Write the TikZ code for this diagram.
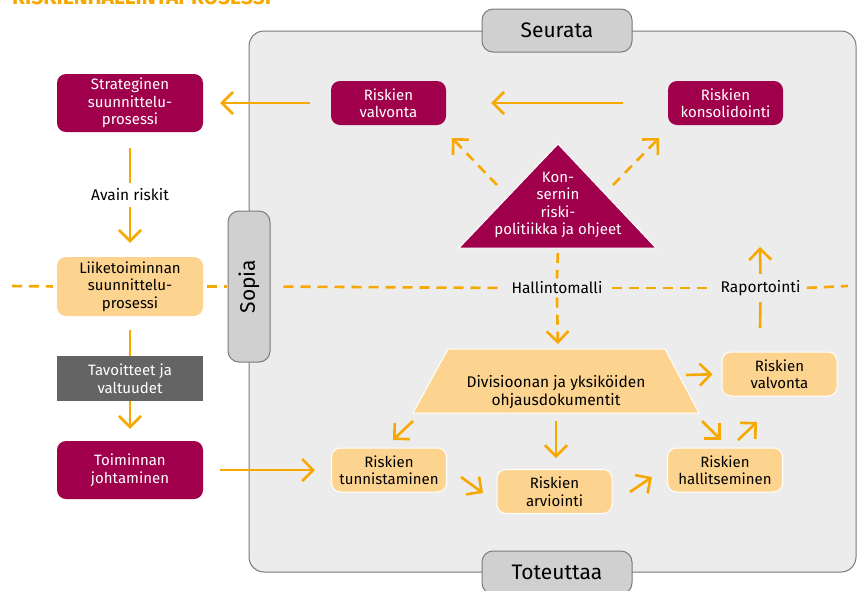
\documentclass[tikz,border=0pt]{standalone}
\usepackage{fontspec}
\setmainfont{Fira Sans}
\usetikzlibrary{positioning}
\usetikzlibrary{arrows.meta}
\definecolor{wine}{HTML}{A0004B}
\definecolor{amber}{HTML}{F7A800}
\definecolor{peach}{HTML}{FDD48F}
\definecolor{panelgrey}{HTML}{ECECEC}
\definecolor{tabgrey}{HTML}{D0D0D0}
\definecolor{tabedge}{HTML}{7A7A7A}
\definecolor{slate}{HTML}{646464}
\tikzset{
    box/.style={rounded corners=9pt, minimum width=115pt, minimum height=44pt, align=center, inner sep=1pt, font=\fontsize{15}{17.5}\selectfont}, % laatikot
    wine box/.style={box, fill=wine, text=white},
    peach box/.style={box, fill=peach, draw=white, line width=1pt},
    tab/.style={rounded corners=11pt, fill=tabgrey, draw=tabedge, line width=1pt, minimum width=150pt, minimum height=43pt, font=\fontsize{21}{24}\selectfont}, % vaiheet
    label/.style={font=\fontsize{15.5}{18}\selectfont},
    flow/.style={draw=amber, line width=2.6pt},
    arr/.style={flow, -{Straight Barb[length=11pt, width=22pt]}},
    dashline/.style={flow, dash pattern=on 10pt off 7pt}
}
\begin{document}
\begin{tikzpicture}[x=1pt, y=-1pt]
    \useasboundingbox (0,0) rectangle (857,590);

    \node[anchor=base west, inner sep=0pt, text=amber, font=\bfseries\fontsize{21}{24}\selectfont] (title) at (12,4) {RISKIENHALLINTAPROSESSI};

    % harmaa alue ja vaiheet
    \draw[fill=panelgrey, draw=tabedge, line width=1pt, rounded corners=15pt] (249,31) rectangle (856,572);
    \node[tab] (seurata) at (557,30.5) {Seurata};
    \node[tab] (toteuttaa) at (557,572.5) {Toteuttaa};
    \node[tab, rotate=90, minimum width=151pt, minimum height=42pt] (sopia) at (249,286.5) {Sopia};

    % vasen sarake
    \node[wine box, minimum width=146pt, minimum height=58pt] (strat) at (130,103) {Strateginen\\suunnittelu-\\prosessi};
    \node[label] (avain) at (130,195) {Avain riskit};
    \node[box, fill=peach, minimum width=146pt, minimum height=59pt] (liike) at (130,286.5) {Liiketoiminnan\\suunnittelu-\\prosessi};
    \node[box, rounded corners=0pt, fill=slate, text=white, minimum width=146pt, minimum height=45pt] (tavo) at (130,378.5) {Tavoitteet ja\\valtuudet};
    \node[wine box, minimum width=146pt, minimum height=58pt] (toim) at (130,470) {Toiminnan\\johtaminen};

    % seuranta
    \node[wine box] (valv1) at (388.5,103) {Riskien\\valvonta};
    \node[wine box] (konsol) at (725.5,103) {Riskien\\konsolidointi};

    \fill[wine, draw=white, line width=1pt] (558,144) -- (656,248) -- (459,248) -- cycle;
    \node[align=center, text=white, inner sep=0pt, font=\fontsize{15}{17.2}\selectfont] (policy) at (558,205) {Kon-\\sernin\\riski-\\politiikka ja ohjeet};

    \node[label] (hallinto) at (557,288) {Hallintomalli};
    \node[label] (raport) at (760.5,288) {Raportointi};

    % toteutus
    \fill[peach, draw=white, line width=1pt] (448,349) -- (665,349) -- (699,413) -- (413,413) -- cycle;
    \node[align=center, inner sep=0pt, font=\fontsize{15.5}{17.5}\selectfont] (divi) at (556,392) {Divisioonan ja yksiköiden\\ohjausdokumentit};

    \node[peach box] (valv2) at (779.5,374) {Riskien\\valvonta};
    \node[peach box] (tunn) at (389,470) {Riskien\\tunnistaminen};
    \node[peach box] (arvi) at (554.5,491.5) {Riskien\\arviointi};
    \node[peach box] (hall) at (725,470) {Riskien\\hallitseminen};

    \coordinate (hl) at (12,286);
    \coordinate (hr) at (848,286);
    \coordinate (tribase) at (558,248);
    \coordinate (trapeztop) at (558,349);
    \coordinate (triL) at (497,185);
    \coordinate (triLend) at (452,138);
    \coordinate (triR) at (613,185);
    \coordinate (triRend) at (659,138);
    \coordinate (rapbot) at (760,328);
    \coordinate (raptop) at (760,247);
    \coordinate (divL) at (413,421);
    \coordinate (divLend) at (393,440);
    \coordinate (divM) at (556,421);
    \coordinate (divMend) at (556,458);
    \coordinate (divE) at (686,375);
    \coordinate (divR) at (702,421);
    \coordinate (divRend) at (721,440);
    \coordinate (tunnE) at (461,477);
    \coordinate (arviW) at (483,493);
    \coordinate (arviE) at (630,492);
    \coordinate (hallW) at (652,477);
    \coordinate (hallN) at (738,440);
    \coordinate (valvS) at (757,422);

    % katkoviiva
    \draw[dashline, shorten >=4pt] (hl) -- (liike.west);
    \draw[dashline, shorten <=4pt, shorten >=1pt] (liike.east) -- (sopia.north);
    \draw[dashline, shorten <=13pt, shorten >=4pt] (sopia.south) -- (hallinto.west);
    \draw[dashline, shorten <=6pt, shorten >=4pt] (hallinto.east) -- (raport.west);
    \draw[dashline, shorten <=3pt] (raport.east) -- (hr);

    % nuolet
    \draw[flow, shorten <=16pt, shorten >=2pt] (strat.south) -- (avain.north);
    \draw[arr, shorten <=2pt, shorten >=14pt] (avain.south) -- (liike.north);
    \draw[flow, shorten <=14pt] (liike.south) -- (tavo.north);
    \draw[arr, shorten >=12pt] (tavo.south) -- (toim.north);
    \draw[arr, shorten <=17pt, shorten >=16pt] (toim.east) -- (tunn.west);

    \draw[arr, shorten <=45pt, shorten >=45pt] (konsol.west) -- (valv1.east);
    \draw[arr, shorten <=21pt, shorten >=17pt] (valv1.west) -- (strat.east);
    \draw[arr, dashline] (triL) -- (triLend);
    \draw[arr, dashline] (triR) -- (triRend);
    \draw[dashline, shorten <=5pt] (tribase) -- (hallinto.north);
    \draw[arr, dashline, shorten >=5pt] (hallinto.south) -- (trapeztop);

    \draw[flow, shorten >=3pt] (rapbot) -- (raport.south);
    \draw[arr, shorten <=3pt] (raport.north) -- (raptop);

    \draw[arr] (divL) -- (divLend);
    \draw[arr] (divM) -- (divMend);
    \draw[arr, shorten >=9pt] (divE) -- (valv2.west);
    \draw[arr] (divR) -- (divRend);
    \draw[arr] (tunnE) -- (arviW);
    \draw[arr] (arviE) -- (hallW);
    \draw[arr] (hallN) -- (valvS);
\end{tikzpicture}
\end{document}
